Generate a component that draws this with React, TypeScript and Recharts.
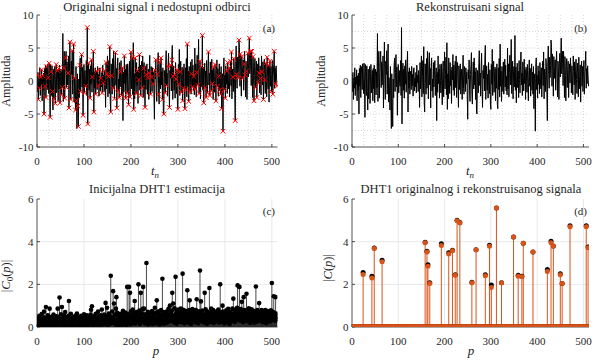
import { ComposedChart, Line, Bar, XAxis, YAxis, CartesianGrid } from "recharts";

const FONT = '"Liberation Serif", "DejaVu Serif", serif';
const INK = "#262626";
const ORANGE = "#D95319";

// ─── Data ──────────────────────────────────────────────────────────────────────

const signal: number[] = [
  0.9, -1.6, 1.3, -2.8, 0.4, -1.1, 2.0, -2.2, 0.6, -0.5, 1.7, -3.0, 0.8, -1.4, 1.2, -5.0,
  1.9, -0.8, 2.4, -2.5, 1.0, 2.2, -1.3, 2.6, 0.5, -1.9, 2.7, -0.6, -5.5, 2.5, 1.4, -2.2,
  2.3, -1.6, -4.4, 1.8, -2.7, 0.9, 2.2, -3.4, 1.1, 2.5, -1.8, 0.3, 1.6, -3.0, 1.9, -1.2,
  2.4, -3.3, 0.7, 1.8, -2.1, 1.4, -1.0, 7.2, -3.1, 2.0, 4.5, -2.6, 1.3, 3.5, 4.5, -1.0,
  2.9, -0.6, 1.2, 3.8, -4.1, 1.5, 5.9, 0.2, -2.8, 3.0, 1.0, 4.6, -2.0, 1.6, 5.6, -3.2,
  0.5, -1.4, -4.4, 2.2, -3.0, -7.2, 1.1, -3.8, -6.9, 0.3, -2.5, 2.4, 3.5, -1.6, 1.3, 4.0,
  -0.9, 2.1, -5.2, 0.4, 2.5, -1.8, 1.6, -0.2, -0.8, 3.1, -2.2, 8.1, -6.5, 0.9, 2.7, -1.4,
  1.8, -2.6, 2.3, -0.5, 3.2, -1.7, 0.6, 2.6, 4.5, -4.7, 1.4, -1.1, 2.0, -2.0, 0.8, 1.5,
  -1.3, 2.2, -0.7, 1.0, -2.3, 1.7, 2.0, -1.5, 0.4, -0.9, 1.3, -1.8, 2.4, -0.3, 0.9, -1.6,
  1.6, 0.2, -4.0, 2.8, -1.2, 1.1, 3.8, -2.4, 0.7, 3.1, -1.9, 5.2, -3.3, -4.7, 2.6, 0.8,
  -2.0, 3.4, -1.1, 4.5, 1.2, -2.7, 2.3, 4.3, -0.6, 1.9, -4.1, 2.2, 3.5, -1.5, 0.3, -2.5,
  2.8, -0.9, 1.4, 3.1, -2.2, 0.6, 2.0, -6.0, 1.3, -1.7, 3.8, -0.4, 1.8, -2.6, 2.5, 0.1,
  -1.8, 2.6, -0.8, -3.6, 1.5, 3.0, -2.4, 0.9, 4.4, -1.2, 1.0, 3.6, -2.1, 5.8, -4.3, 1.1,
  -2.7, 3.5, 0.4, -1.9, 2.8, -0.7, 1.6, -3.4, 2.1, 0.2, 4.0, -1.4, 2.4, -2.2, 1.2, 3.0,
  -1.0, 3.8, -2.5, 1.9, 2.8, -0.8, -4.0, 2.3, -1.3, 1.0, 2.6, -2.0, 0.5, 1.8, -2.8, 1.2,
  3.9, -1.1, -2.0, 2.2, 0.6, -1.6, 2.0, -0.4, 1.3, -2.3, -5.8, 1.7, 0.3, 3.2, -1.5, -3.1,
  1.0, 2.5, 4.3, -2.0, -3.5, 0.8, 2.9, -1.2, 3.5, -0.6, 1.4, -2.8, 2.0, -4.7, -5.0, 1.6,
  0.5, -1.8, 2.6, 4.6, -0.7, 1.2, -2.3, 2.2, 4.2, -0.9, -4.0, 1.6, 0.4, 2.4, -1.5, 3.2,
  5.4, -2.8, 0.7, 2.3, -1.4, 1.0, -2.6, 2.8, 0.3, -1.9, 1.7, -3.5, -4.3, 2.5, -0.5, 4.8,
  -2.2, 1.4, 3.0, -1.7, 0.9, 2.1, -3.0, 1.8, -1.1, 2.6, -3.5, -4.2, 2.0, -1.3, 3.4, -2.4,
  5.6, -0.8, 1.5, -3.1, 2.2, 0.4, -1.6, 2.9, -2.0, 1.1, 3.3, -0.9, 2.4, -1.5, 0.7, -2.1,
  5.0, -1.2, 2.6, -2.4, 1.3, 3.9, -0.6, 1.8, 6.3, -1.9, 0.5, 3.0, -2.7, 1.4, 2.2, -0.9,
  6.9, -1.4, 2.1, -3.3, 0.8, 2.7, -1.0, 1.5, -2.5, 3.1, 0.2, -1.8, 2.4, 4.4, -0.6, 1.2,
  -2.2, 2.9, 0.6, -1.5, 3.3, -0.4, 1.7, -2.8, 2.1, 0.9, -1.7, 2.5, -0.2, -3.0, 1.6, 3.2,
  -0.8, 1.9, -2.3, 0.7, 2.6, -1.4, 1.3, -2.0, 2.2, -4.2, 0.4, 1.1, -7.6, 2.0, 3.5, -1.3,
  0.9, -2.6, 2.3, -0.5, 1.5, -1.9, 2.8, 0.3, -1.2, 2.0, -2.4, 1.4, 3.0, -0.7, 4.4, -2.7,
  1.8, 0.6, -1.6, 3.4, 2.2, -2.0, -6.0, 2.9, 5.3, 1.0, -1.1, 3.6, 0.5, 2.4, 6.2, 5.1,
  -0.8, 4.1, 1.6, -2.3, 3.7, 2.0, 0.4, 3.2, -1.4, 2.6, 4.5, 0.9, -2.4, 3.0, 1.5, -2.8,
  2.7, 4.2, 0.6, 3.5, 6.5, 1.1, 2.4, 4.5, -0.7, 4.5, 1.9, -2.5, 3.7, 0.8, -3.0, 2.2,
  3.4, -1.0, 1.7, 3.0, -2.5, 0.9, 2.6, -0.3, 3.5, 1.2, -1.8, 2.3, 0.4, -2.1, 3.8, 1.4,
  -0.6, 2.9, -2.8, 1.5, 3.3, 0.2, -1.9, 2.7, 1.0, -2.4, 3.6, 0.7, -1.2, 2.4, -3.2, 1.8,
  3.0, -0.8, 2.2, -1.6, 1.4, 3.1, -2.0, 0.9, 2.5, 4.5, -1.1, 1.9, -0.4, 2.3, 0.6, -0.8,
];

// indices of unavailable samples (red x in panel a)
const missingIdx: number[] = [
  0, 3, 5, 8, 10, 12, 15, 17, 19, 21, 24, 26, 28, 30, 33, 36, 39, 41, 44, 46, 49, 52, 54, 57,
  59, 61, 63, 66, 68, 70, 72, 75, 78, 80, 82, 84, 87, 88, 91, 93, 95, 98, 101, 104, 107, 108,
  110, 113, 116, 118, 120, 121, 125, 127, 130, 133, 136, 139, 141, 144, 147, 149, 152, 155, 157,
  159, 162, 165, 167, 170, 173, 175, 178, 180, 182, 186, 189, 192, 195, 198, 200, 203, 206, 209,
  211, 214, 217, 218, 221, 224, 227, 230, 233, 236, 239, 242, 244, 247, 251, 253, 256, 259, 262,
  264, 267, 270, 273, 276, 279, 282, 285, 287, 290, 293, 296, 298, 300, 302, 305, 307, 310, 312,
  315, 317, 320, 323, 326, 329, 331, 334, 337, 340, 342, 345, 347, 350, 352, 355, 358, 360, 363,
  365, 368, 371, 373, 376, 379, 381, 384, 387, 389, 391, 393, 396, 399, 401, 404, 406, 409, 412,
  414, 417, 419, 422, 425, 428, 430, 433, 436, 438, 441, 443, 446, 449, 452, 455, 457, 460, 462,
  465, 468, 471, 473, 476, 479, 482, 485, 487, 490, 493, 496, 499, 502, 505, 508, 511,
];

// |C0(p)|, initial DHT1 estimate, p = 0..511
const c0: number[] = [
  0.21, 0.35, 0.08, 0.42, 0.15, 0.52, 0.27, 0.11, 0.38, 0.19, 0.61, 0.05, 0.33, 0.24, 0.46, 0.72,
  0.13, 0.29, 0.4, 0.94, 0.07, 0.36, 0.18, 0.55, 0.26, 0.09, 0.44, 0.86, 0.2, 0.31, 0.12, 0.48,
  0.25, 0.06, 0.37, 0.58, 0.16, 0.43, 0.1, 0.3, 0.51, 0.22, 0.04, 0.39, 0.86, 0.17, 0.47, 0.28,
  1.38, 0.14, 0.35, 0.6, 0.09, 0.94, 0.23, 0.41, 0.12, 0.32, 0.55, 0.19, 0.7, 0.07, 0.38, 0.26,
  0.45, 0.13, 0.29, 0.52, 1.22, 0.2, 0.36, 0.08, 0.62, 0.27, 0.15, 0.43, 0.05, 0.34, 0.49, 0.18,
  0.3, 0.11, 0.4, 0.24, 0.57, 0.63, 0.16, 0.37, 0.09, 0.28, 0.46, 0.14, 0.33, 0.21, 0.52, 0.06,
  0.39, 0.25, 0.12, 0.48, 0.6, 0.18, 0.31, 0.07, 0.42, 0.23, 0.55, 0.15, 0.36, 0.27, 0.1, 0.44,
  0.2, 0.34, 0.58, 0.81, 0.13, 0.97, 0.26, 0.4, 0.08, 0.5, 0.3, 0.17, 0.45, 0.62, 0.22, 0.11,
  0.37, 0.28, 0.72, 0.14, 0.49, 0.06, 0.33, 0.55, 0.19, 0.41, 0.82, 0.24, 0.12, 0.46, 0.3, 0.58,
  0.17, 0.39, 1.13, 0.26, 0.52, 0.9, 0.08, 0.44, 0.21, 0.63, 0.35, 0.14, 0.5, 2.4, 0.27, 0.41,
  0.73, 0.2, 1.68, 0.47, 1.1, 0.32, 0.58, 0.12, 0.86, 1.4, 0.25, 0.66, 0.38, 0.09, 0.54, 0.3,
  0.45, 0.18, 0.62, 0.35, 0.11, 0.57, 0.29, 0.76, 0.4, 0.15, 0.5, 0.23, 0.68, 0.34, 0.08, 0.47,
  1.88, 0.31, 0.6, 0.22, 1.88, 0.44, 1.6, 0.13, 0.74, 0.37, 0.55, 0.19, 0.82, 0.28, 0.48, 0.65,
  1.22, 0.16, 0.53, 0.36, 0.7, 0.25, 0.42, 0.6, 2.0, 0.33, 0.77, 0.14, 0.51, 1.6, 0.29, 0.64,
  0.4, 0.85, 1.88, 0.22, 0.86, 0.47, 0.18, 0.6, 0.35, 3.0, 0.52, 0.27, 0.71, 0.12, 0.45, 0.58,
  0.3, 0.66, 0.2, 0.49, 0.38, 0.75, 0.14, 0.56, 0.31, 0.62, 0.24, 0.9, 0.43, 0.17, 0.68, 1.25,
  0.35, 0.52, 0.21, 0.74, 0.44, 0.12, 0.6, 0.29, 0.8, 0.38, 0.55, 2.26, 0.26, 0.7, 0.15, 0.49,
  0.63, 0.33, 0.47, 0.19, 0.72, 0.4, 0.58, 0.24, 0.85, 0.36, 0.52, 1.0, 0.28, 0.66, 0.45, 0.77,
  1.6, 0.3, 1.1, 0.54, 0.21, 0.88, 0.42, 2.35, 0.62, 0.16, 0.73, 0.35, 0.5, 0.82, 0.27, 0.6,
  0.39, 0.7, 0.86, 0.23, 0.57, 0.44, 2.5, 0.81, 0.31, 0.65, 0.18, 0.48, 0.76, 0.34, 0.56, 0.25,
  1.72, 0.46, 0.63, 0.2, 0.79, 1.25, 0.37, 0.58, 0.14, 0.69, 0.42, 0.84, 0.29, 0.53, 0.71, 0.36,
  0.6, 0.22, 0.8, 0.47, 1.3, 0.33, 0.67, 0.18, 0.55, 0.74, 0.4, 2.65, 0.61, 1.2, 0.28, 0.52,
  0.77, 0.35, 0.59, 0.21, 0.48, 1.6, 0.3, 0.83, 0.44, 0.66, 0.15, 0.72, 0.39, 0.56, 0.27, 1.83,
  0.5, 0.68, 0.24, 0.86, 0.41, 0.6, 0.32, 0.79, 0.19, 0.53, 0.7, 0.37, 0.62, 0.26, 0.45, 0.74,
  0.31, 0.57, 0.82, 0.43, 0.2, 0.69, 2.0, 0.36, 0.64, 0.48, 0.25, 1.0, 0.72, 0.4, 0.58, 0.17,
  0.66, 0.34, 0.51, 0.78, 0.23, 0.6, 0.42, 0.85, 0.3, 0.55, 0.14, 0.71, 0.46, 0.62, 0.28, 0.5,
  0.86, 0.38, 1.33, 0.59, 0.81, 0.24, 0.67, 0.45, 0.73, 0.33, 0.9, 1.95, 0.52, 0.76, 0.41, 1.88,
  0.63, 0.29, 0.84, 0.5, 1.18, 0.36, 0.7, 0.22, 1.4, 0.57, 0.8, 0.44, 0.65, 0.31, 1.56, 0.48,
  0.74, 0.27, 0.6, 0.88, 0.42, 0.55, 0.19, 0.7, 0.35, 0.83, 0.47, 0.62, 0.3, 0.76, 0.53, 0.21,
  0.68, 0.4, 1.9, 0.58, 0.25, 0.8, 0.45, 0.64, 0.33, 1.12, 0.52, 0.71, 0.28, 0.6, 0.79, 0.37,
  0.55, 0.23, 0.72, 0.46, 0.66, 0.34, 0.8, 0.5, 0.18, 0.62, 0.41, 0.75, 0.3, 0.57, 0.44, 0.69,
  0.26, 0.6, 0.78, 0.38, 2.06, 0.52, 0.33, 0.7, 1.44, 0.45, 0.58, 0.29, 1.4, 0.63, 0.36, 0.5,
];

// sparse DHT1: nonzero positions, original |C(p)| and reconstructed
const peakPos: number[] = [
  24, 43, 48, 65, 158, 162, 164, 168, 193, 209, 217, 223, 227, 233, 259, 268, 288,
  297, 301, 312, 323, 349, 359, 367, 370, 391, 422, 430, 435, 450, 454, 471, 506, 510,
];
const peakOrig: number[] = [
  2.55, 2.38, 3.7, 3.13, 3.97, 3.55, 2.92, 2.07, 3.9, 3.48, 3.6, 2.45, 5.0, 4.9, 2.1, 3.62, 2.45,
  3.83, 1.97, 5.58, 2.07, 4.22, 2.42, 2.38, 3.93, 3.52, 2.7, 4.02, 3.8, 2.5, 2.04, 4.75, 4.75, 3.75,
];
const peakRec: number[] = [
  2.46, 2.3, 3.68, 3.06, 3.95, 3.52, 2.85, 2.04, 3.82, 3.42, 3.57, 2.43, 4.98, 4.88, 2.07, 3.62, 2.4,
  3.78, 1.85, 5.58, 2.07, 4.22, 2.38, 2.35, 3.93, 3.52, 2.6, 3.95, 3.78, 2.45, 2.04, 4.7, 4.7, 3.72,
];

const xTicks = [0, 100, 200, 300, 400, 500];
const ampTicks = [-10, -5, 0, 5, 10];
const coefTicks = [0, 2, 4, 6];
const minorX = [25, 50, 75, 100, 125, 150, 175, 200, 225, 250, 275, 300, 325, 350, 375, 400, 425, 450, 475, 500];
const minorY = [-7.5, -5, -2.5, 0, 2.5, 5, 7.5];

// ─── Tables for recharts ───────────────────────────────────────────────────────

const missSet = new Set(missingIdx);
const sigRows = signal.map((y, t) => ({ t, y, miss: missSet.has(t) ? y : null }));
const c0Rows = c0.map((c, p) => ({ p, c }));
const dRows = c0.map((_, p) => {
  const k = peakPos.indexOf(p);
  return { p, o: k >= 0 ? peakOrig[k] : 0, r: k >= 0 ? peakRec[k] : 0 };
});

// ─── Shapes ────────────────────────────────────────────────────────────────────

const tickStyle = { fontSize: 11, fill: INK, fontFamily: FONT };

function RedX(props: any) {
  const { cx, cy, index, value } = props;
  if (value == null || cy == null) return <g key={`x${index}`} />;
  const s = 2.3;
  return (
    <path
      key={`x${index}`}
      d={`M${cx - s},${cy - s}L${cx + s},${cy + s}M${cx - s},${cy + s}L${cx + s},${cy - s}`}
      stroke="#ff0000"
      strokeWidth={1}
      fill="none"
    />
  );
}

function stemShape(color: string, w: number) {
  return (props: any) => {
    const { x, y, width, height, index } = props;
    if (x == null || height == null) return <g key={`s${index}`} />;
    const cx = x + width / 2;
    return <line key={`s${index}`} x1={cx} x2={cx} y1={y} y2={y + height} stroke={color} strokeWidth={w} />;
  };
}

function dotOf(color: string, r: number) {
  return (props: any) => {
    const { cx, cy, index } = props;
    if (cy == null) return <g key={`d${index}`} />;
    return <circle key={`d${index}`} cx={cx} cy={cy} r={r} fill={color} stroke="none" />;
  };
}

// axes for the MATLAB-style box: ticks point inward on all four sides
function frame(xKey: string, yDomain: number[], yTicks: number[], yWidth: number) {
  return [
    <XAxis key="xb" dataKey={xKey} type="number" domain={[0, 512]} ticks={xTicks} interval={0}
      allowDataOverflow height={20} tickSize={-3} tickMargin={13} tick={tickStyle}
      axisLine={{ stroke: INK, strokeWidth: 0.8 }} tickLine={{ stroke: INK, strokeWidth: 0.8 }} />,
    <XAxis key="xt" xAxisId="top" orientation="top" dataKey={xKey} type="number" domain={[0, 512]}
      ticks={xTicks} interval={0} allowDataOverflow height={0} tickSize={-3} tick={false}
      axisLine={{ stroke: INK, strokeWidth: 0.8 }} tickLine={{ stroke: INK, strokeWidth: 0.8 }} />,
    <YAxis key="yl" type="number" domain={yDomain} ticks={yTicks} interval={0} allowDataOverflow
      width={yWidth} tickSize={-3} tickMargin={6.5} tick={tickStyle}
      axisLine={{ stroke: INK, strokeWidth: 0.8 }} tickLine={{ stroke: INK, strokeWidth: 0.8 }} />,
    <YAxis key="yr" yAxisId="right" orientation="right" type="number" domain={yDomain} ticks={yTicks}
      interval={0} allowDataOverflow width={0} tickSize={-3} tick={false}
      axisLine={{ stroke: INK, strokeWidth: 0.8 }} tickLine={{ stroke: INK, strokeWidth: 0.8 }} />,
  ];
}

const box = (left: number, top: number): React.CSSProperties => ({ position: "absolute", left, top });

export default function App() {
  const topMargin = { top: 15, right: 12.5, bottom: 13, left: 0 };
  const topMarginR = { top: 15, right: 6, bottom: 13, left: 0 };
  const botMargin = { top: 19, right: 12.5, bottom: 16, left: 0 };
  const botMarginR = { top: 19, right: 6, bottom: 16, left: 0 };

  return (
    <div style={{ position: "absolute", left: 0, top: 0, width: 595, height: 363, background: "#fff", overflow: "hidden" }}>
      {/* (a) original signal with unavailable samples */}
      <div style={box(0, 0)}>
        <ComposedChart width={290} height={180} data={sigRows} margin={topMargin}>
          <CartesianGrid stroke="#bdbdbd" strokeWidth={0.6} strokeDasharray="1 2"
            verticalValues={minorX} horizontalValues={minorY} />
          {frame("t", [-10, 10], ampTicks, 37)}
          <Line dataKey="y" stroke="#000" strokeWidth={1} dot={false} activeDot={false} isAnimationActive={false} />
          <Line dataKey="miss" stroke="none" dot={RedX} activeDot={false} isAnimationActive={false} />
        </ComposedChart>
      </div>

      {/* (b) reconstructed signal */}
      <div style={box(310, 0)}>
        <ComposedChart width={285} height={180} data={sigRows} margin={topMarginR}>
          <CartesianGrid stroke="#bdbdbd" strokeWidth={0.6} strokeDasharray="1 2"
            verticalValues={minorX} horizontalValues={minorY} />
          {frame("t", [-10, 10], ampTicks, 42)}
          <Line dataKey="y" stroke="#000" strokeWidth={1} dot={false} activeDot={false} isAnimationActive={false} />
        </ComposedChart>
      </div>

      {/* (c) initial DHT1 estimate */}
      <div style={box(0, 180)}>
        <ComposedChart width={290} height={183} data={c0Rows} margin={botMargin}>
          <CartesianGrid stroke="#e3e3e3" strokeWidth={0.8}
            verticalValues={[100, 200, 300, 400, 500]} horizontalValues={[2, 4]} />
          {frame("p", [0, 6], coefTicks, 37)}
          <Bar dataKey="c" fill="#000" shape={stemShape("#1a1a1a", 0.8)} isAnimationActive={false} />
          <Line dataKey="c" stroke="none" dot={dotOf("#000", 2.3)} activeDot={false} isAnimationActive={false} />
        </ComposedChart>
      </div>

      {/* (d) DHT1 of original and reconstructed */}
      <div style={box(310, 180)}>
        <ComposedChart width={285} height={183} data={dRows} margin={botMarginR}>
          <CartesianGrid stroke="#e3e3e3" strokeWidth={0.8}
            verticalValues={[100, 200, 300, 400, 500]} horizontalValues={[2, 4]} />
          {frame("p", [0, 6], coefTicks, 42)}
          <Bar dataKey="r" fill={ORANGE} shape={stemShape(ORANGE, 1)} isAnimationActive={false} />
          <Line dataKey="o" stroke="none" dot={dotOf("#000", 2.5)} activeDot={false} isAnimationActive={false} />
          <Line dataKey="r" stroke="none" dot={dotOf(ORANGE, 2.5)} activeDot={false} isAnimationActive={false} />
        </ComposedChart>
      </div>

      {/* titles and labels */}
      <svg width={595} height={363} style={{ position: "absolute", left: 0, top: 0, pointerEvents: "none" }}
        fontFamily={FONT} fill={INK}>
        <text x={157} y={10.5} fontSize={12.5} textAnchor="middle">Originalni signal i nedostupni odbirci</text>
        <text x={470} y={10.5} fontSize={12.5} textAnchor="middle">Rekonstruisani signal</text>
        <text x={157} y={192.5} fontSize={12.5} textAnchor="middle">Inicijalna DHT1 estimacija</text>
        <text x={471} y={192.5} fontSize={12.5} textAnchor="middle">DHT1 originalnog i rekonstruisanog signala</text>

        <text transform="translate(10,81) rotate(-90)" fontSize={12} textAnchor="middle">Amplituda</text>
        <text transform="translate(325,81) rotate(-90)" fontSize={12} textAnchor="middle">Amplituda</text>
        <text transform="translate(10,276) rotate(-90)" fontSize={12.5} textAnchor="middle">
          |<tspan fontStyle="italic">C</tspan><tspan fontSize={9} dy={2.5}>0</tspan><tspan dy={-2.5}>(</tspan><tspan fontStyle="italic">p</tspan>)|
        </text>
        <text transform="translate(332,268) rotate(-90)" fontSize={12.5} textAnchor="middle">
          |<tspan fontStyle="italic">C</tspan>(<tspan fontStyle="italic">p</tspan>)|
        </text>

        <text x={155} y={175} fontSize={13} textAnchor="middle">
          <tspan fontStyle="italic">t</tspan><tspan fontSize={9} fontStyle="italic" dy={2.5}>n</tspan>
        </text>
        <text x={470} y={175} fontSize={13} textAnchor="middle">
          <tspan fontStyle="italic">t</tspan><tspan fontSize={9} fontStyle="italic" dy={2.5}>n</tspan>
        </text>
        <text x={156} y={355} fontSize={13} fontStyle="italic" textAnchor="middle">p</text>
        <text x={471} y={355} fontSize={13} fontStyle="italic" textAnchor="middle">p</text>

        <text x={275} y={32} fontSize={11} textAnchor="end">(a)</text>
        <text x={587} y={32} fontSize={11} textAnchor="end">(b)</text>
        <text x={275} y={215} fontSize={11} textAnchor="end">(c)</text>
        <text x={587} y={215} fontSize={11} textAnchor="end">(d)</text>
      </svg>
    </div>
  );
}
